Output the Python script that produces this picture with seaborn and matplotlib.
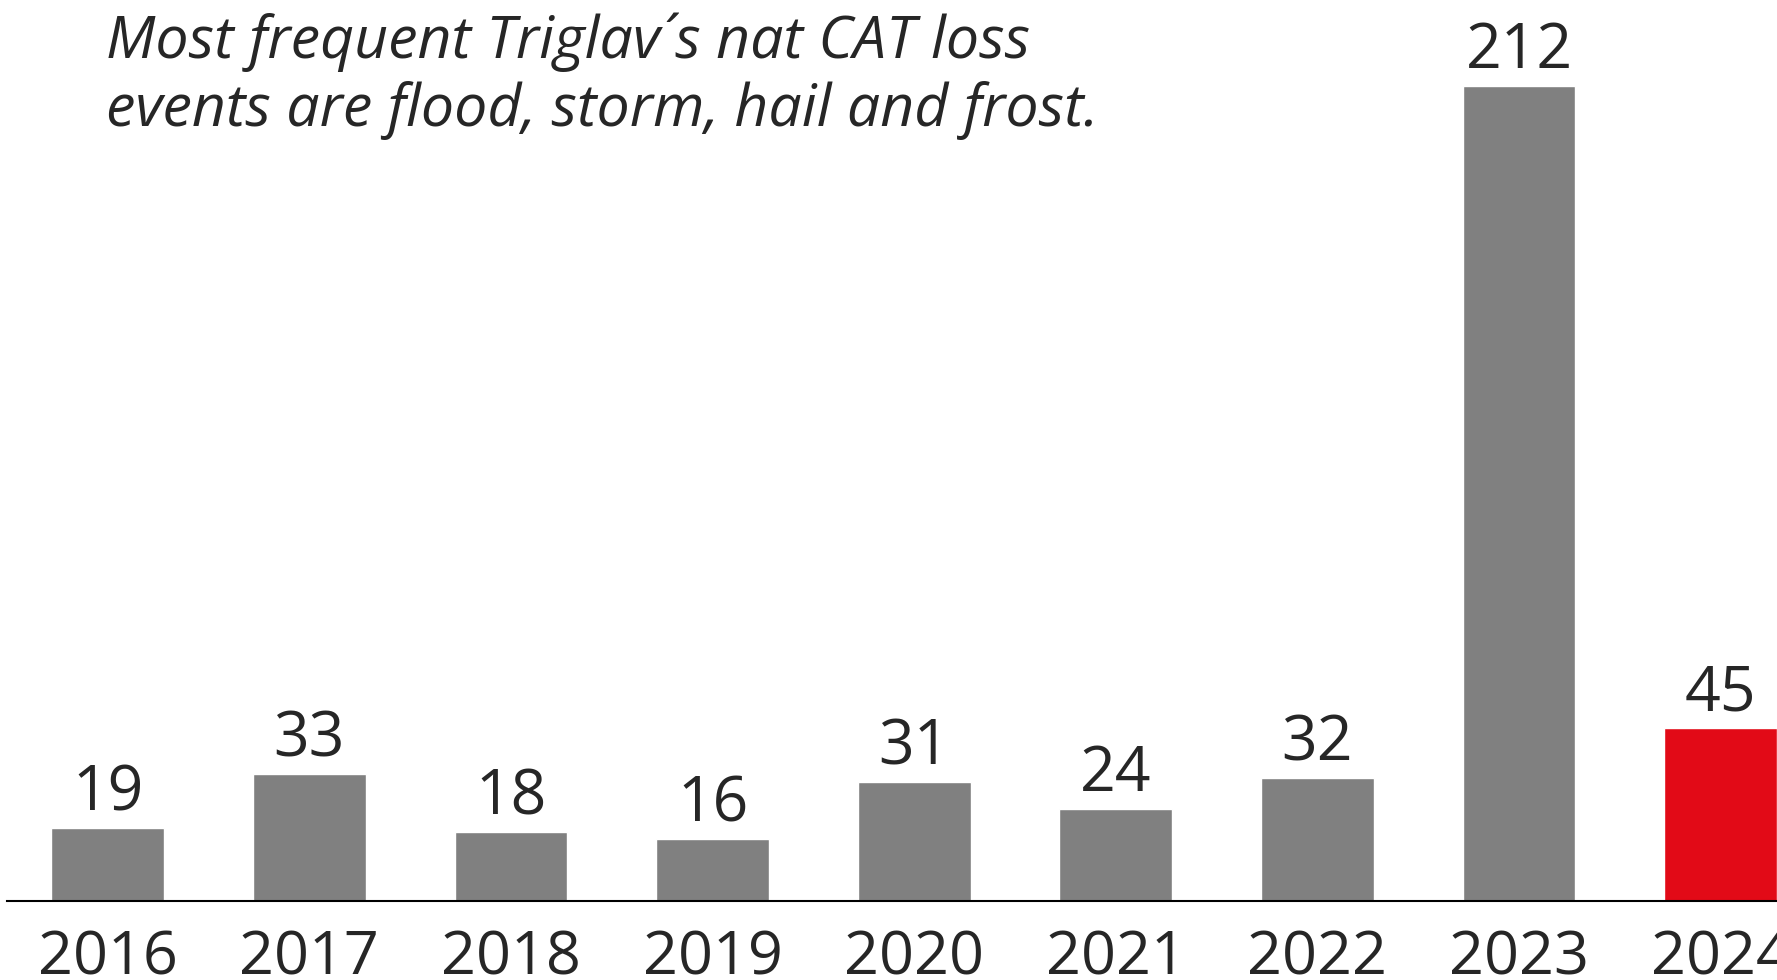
import matplotlib
matplotlib.use("Agg")
import matplotlib.pyplot as plt
import seaborn as sns
import pandas as pd

# Data
years = ["2016", "2017", "2018", "2019", "2020", "2021", "2022", "2023", "2024"]
events = [19, 33, 18, 16, 31, 24, 32, 212, 45]
highlight_year = "2024"

GREY = "#808080"
RED = "#E20A17"
TEXT = "#262626"

sns.set_theme(style="white")
plt.rcParams["font.family"] = ["Open Sans", "DejaVu Sans"]

df = pd.DataFrame({"year": years, "events": events})
palette = {y: (RED if y == highlight_year else GREY) for y in years}

fig = plt.figure(figsize=(17.77, 9.80), dpi=100)
ax = fig.add_axes([7 / 1777, 1 - 901 / 980, 1 - 7 / 1777, 901 / 980])

sns.barplot(data=df, x="year", y="events", hue="year", palette=palette,
            width=0.56, saturation=1, legend=False, ax=ax)

ax.set_xlim(-0.5, 8.28)
ax.set_ylim(0, 234.3)

for i, v in enumerate(events):
    ax.annotate(f"{v}", xy=(i, v), xytext=(0, 2), textcoords="offset points",
                ha="center", va="bottom", fontsize=45, color=TEXT)

for s in ["top", "right", "left"]:
    ax.spines[s].set_visible(False)
ax.spines["bottom"].set_color("black")
ax.spines["bottom"].set_linewidth(1.5)

ax.set_yticks([])
ax.set_xlabel("")
ax.set_ylabel("")
ax.tick_params(axis="x", length=0, pad=20, labelsize=44, labelcolor=TEXT)

fig.text(106 / 1777, 1 - 58 / 980, "Most frequent Triglav´s nat CAT loss",
         fontsize=42.5, style="italic", color=TEXT, ha="left", va="baseline")
fig.text(106 / 1777, 1 - 126 / 980, "events are flood, storm, hail and frost.",
         fontsize=42.5, style="italic", color=TEXT, ha="left", va="baseline")

fig.savefig("out.png", dpi=100)
